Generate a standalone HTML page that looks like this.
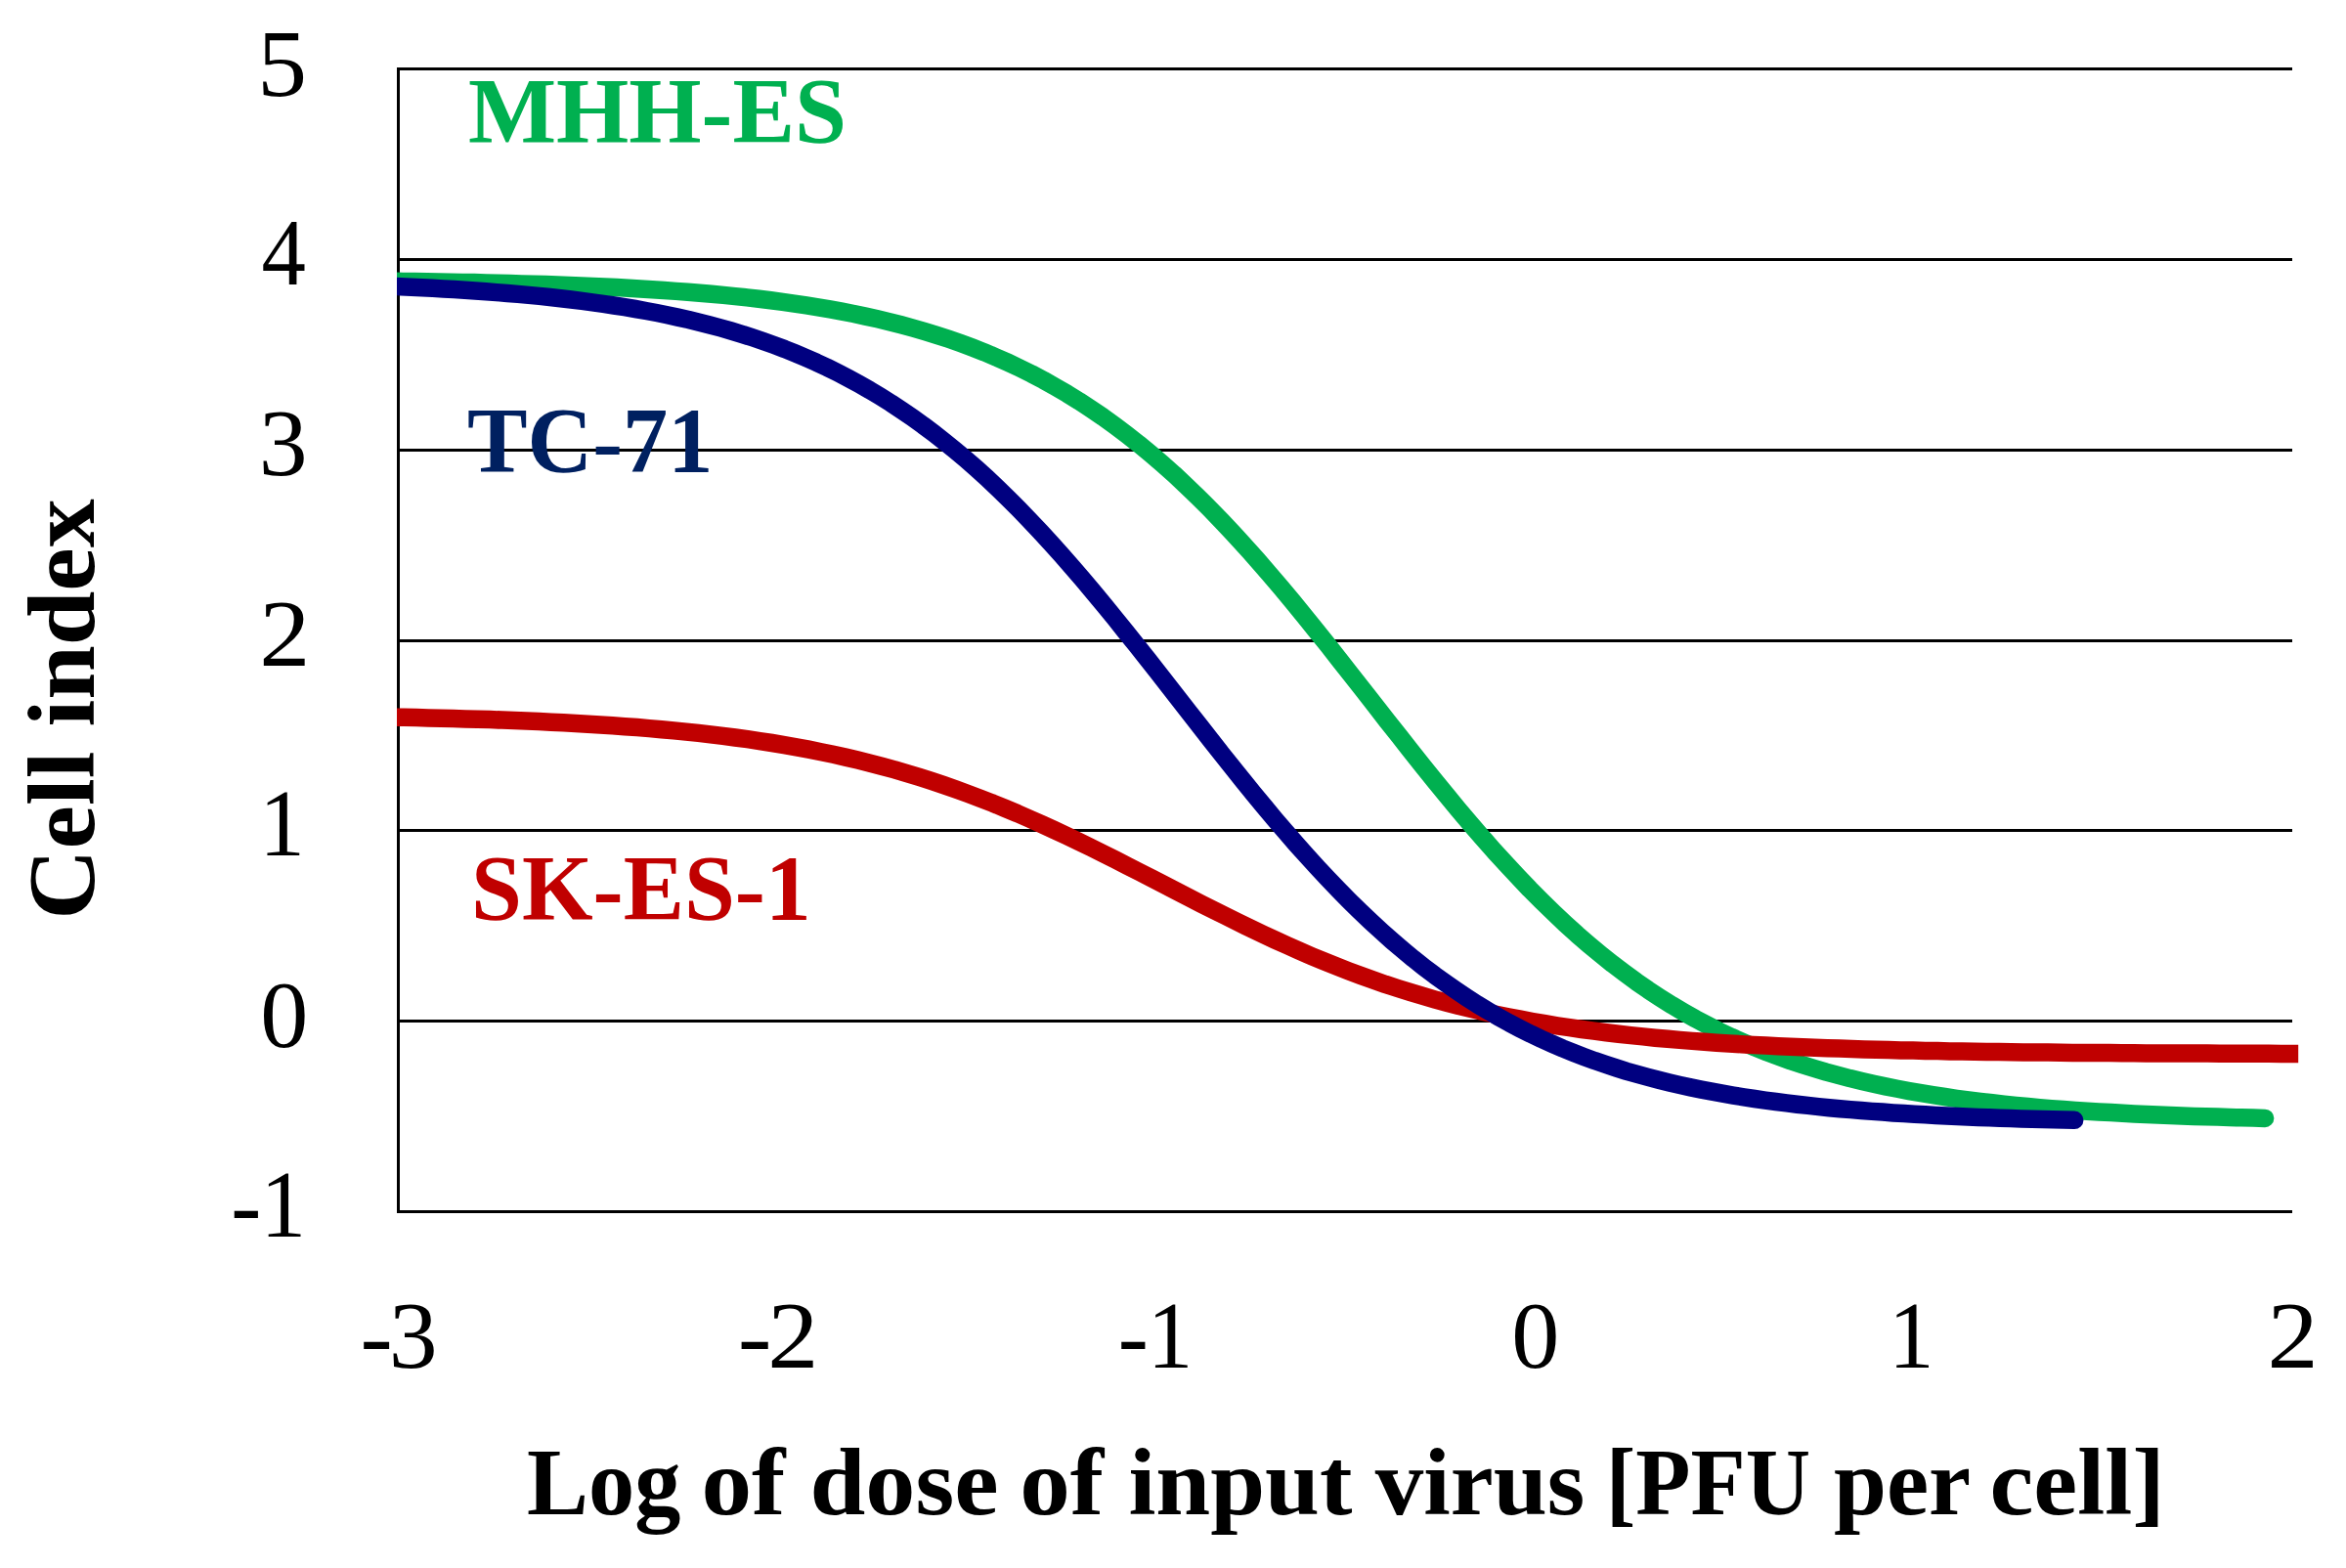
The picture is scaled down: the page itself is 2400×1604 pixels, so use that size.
<!DOCTYPE html>
<html lang="en">
<head>
<meta charset="utf-8">
<title>Cell index vs. log of dose of input virus</title>
<style>
html,body{margin:0;padding:0;background:#fff;}
body{width:2400px;height:1604px;overflow:hidden;}
svg{display:block;}
svg text{font-family:"Liberation Serif",serif;}
.grid line{stroke:#000;stroke-width:3;shape-rendering:crispEdges;}
.curve{fill:none;stroke-width:18.5;stroke-linejoin:round;}
</style>
</head>
<body>
<svg width="2400" height="1604" viewBox="0 0 2400 1604">
<rect width="2400" height="1604" fill="#fff"/>
<defs>
<clipPath id="plotclip"><rect x="406.0" y="0" width="1945.2" height="1604"/></clipPath>
</defs>
<g class="grid">
<line x1="406.0" y1="1239.4" x2="2345.0" y2="1239.4"/>
<line x1="406.0" y1="1044.6" x2="2345.0" y2="1044.6"/>
<line x1="406.0" y1="849.8" x2="2345.0" y2="849.8"/>
<line x1="406.0" y1="655.0" x2="2345.0" y2="655.0"/>
<line x1="406.0" y1="460.2" x2="2345.0" y2="460.2"/>
<line x1="406.0" y1="265.4" x2="2345.0" y2="265.4"/>
<line x1="406.0" y1="70.6" x2="2345.0" y2="70.6"/>
<line x1="407.8" y1="69.1" x2="407.8" y2="1240.9"/>
</g>
<g clip-path="url(#plotclip)">
<path class="curve" stroke="#00B050" stroke-linecap="round" d="M388.1,287.5 L400.3,287.7 L412.4,287.9 L424.5,288.0 L436.7,288.2 L448.8,288.4 L460.9,288.7 L473.0,288.9 L485.2,289.1 L497.3,289.4 L509.4,289.7 L521.6,290.0 L533.7,290.4 L545.8,290.7 L558.0,291.1 L570.1,291.5 L582.2,292.0 L594.4,292.5 L606.5,293.0 L618.6,293.6 L630.8,294.1 L642.9,294.8 L655.0,295.5 L667.2,296.2 L679.3,297.0 L691.4,297.9 L703.6,298.8 L715.7,299.8 L727.8,300.8 L740.0,301.9 L752.1,303.1 L764.2,304.4 L776.3,305.8 L788.5,307.3 L800.6,308.9 L812.7,310.6 L824.9,312.4 L837.0,314.3 L849.1,316.4 L861.3,318.7 L873.4,321.0 L885.5,323.6 L897.7,326.3 L909.8,329.2 L921.9,332.3 L934.1,335.6 L946.2,339.1 L958.3,342.8 L970.5,346.8 L982.6,351.0 L994.7,355.5 L1006.9,360.3 L1019.0,365.4 L1031.1,370.8 L1043.2,376.5 L1055.4,382.5 L1067.5,388.9 L1079.6,395.7 L1091.8,402.8 L1103.9,410.3 L1116.0,418.2 L1128.2,426.5 L1140.3,435.2 L1152.4,444.3 L1164.6,453.9 L1176.7,463.9 L1188.8,474.3 L1201.0,485.1 L1213.1,496.4 L1225.2,508.1 L1237.4,520.2 L1249.5,532.7 L1261.6,545.6 L1273.8,558.9 L1285.9,572.5 L1298.0,586.5 L1310.2,600.8 L1322.3,615.3 L1334.4,630.1 L1346.5,645.1 L1358.7,660.3 L1370.8,675.7 L1382.9,691.1 L1395.1,706.6 L1407.2,722.2 L1419.3,737.7 L1431.5,753.1 L1443.6,768.5 L1455.7,783.8 L1467.9,798.8 L1480.0,813.7 L1492.1,828.3 L1504.3,842.7 L1516.4,856.7 L1528.5,870.5 L1540.7,883.8 L1552.8,896.8 L1564.9,909.5 L1577.1,921.7 L1589.2,933.5 L1601.3,944.9 L1613.4,955.9 L1625.6,966.4 L1637.7,976.5 L1649.8,986.2 L1662.0,995.4 L1674.1,1004.3 L1686.2,1012.7 L1698.4,1020.7 L1710.5,1028.3 L1722.6,1035.5 L1734.8,1042.4 L1746.9,1048.8 L1759.0,1055.0 L1771.2,1060.8 L1783.3,1066.2 L1795.4,1071.4 L1807.6,1076.3 L1819.7,1080.8 L1831.8,1085.2 L1844.0,1089.2 L1856.1,1093.0 L1868.2,1096.6 L1880.4,1099.9 L1892.5,1103.1 L1904.6,1106.0 L1916.7,1108.8 L1928.9,1111.4 L1941.0,1113.8 L1953.1,1116.1 L1965.3,1118.2 L1977.4,1120.2 L1989.5,1122.0 L2001.7,1123.8 L2013.8,1125.4 L2025.9,1126.9 L2038.1,1128.3 L2050.2,1129.6 L2062.3,1130.9 L2074.5,1132.0 L2086.6,1133.1 L2098.7,1134.1 L2110.9,1135.0 L2123.0,1135.9 L2135.1,1136.7 L2147.3,1137.4 L2159.4,1138.1 L2171.5,1138.8 L2183.6,1139.4 L2195.8,1140.0 L2207.9,1140.5 L2220.0,1141.0 L2232.2,1141.5 L2244.3,1141.9 L2256.4,1142.3 L2268.6,1142.6 L2280.7,1143.0 L2292.8,1143.3 L2305.0,1143.6 L2317.1,1143.9"/>
<path class="curve" stroke="#C00000" stroke-linecap="butt" d="M388.1,733.4 L400.7,733.6 L413.2,733.8 L425.8,734.1 L438.3,734.4 L450.9,734.7 L463.4,735.0 L476.0,735.4 L488.5,735.7 L501.1,736.1 L513.6,736.6 L526.2,737.1 L538.7,737.6 L551.3,738.1 L563.8,738.7 L576.4,739.3 L588.9,740.0 L601.5,740.7 L614.0,741.5 L626.6,742.3 L639.1,743.2 L651.7,744.1 L664.2,745.1 L676.8,746.2 L689.4,747.4 L701.9,748.6 L714.5,749.9 L727.0,751.4 L739.6,752.9 L752.1,754.5 L764.7,756.2 L777.2,758.1 L789.8,760.0 L802.3,762.1 L814.9,764.3 L827.4,766.7 L840.0,769.2 L852.5,771.8 L865.1,774.6 L877.6,777.6 L890.2,780.7 L902.7,784.0 L915.3,787.4 L927.8,791.1 L940.4,794.9 L952.9,798.9 L965.5,803.1 L978.0,807.5 L990.6,812.1 L1003.1,816.8 L1015.7,821.7 L1028.2,826.9 L1040.8,832.1 L1053.3,837.6 L1065.9,843.2 L1078.4,849.0 L1091.0,854.9 L1103.5,860.9 L1116.1,867.0 L1128.6,873.2 L1141.2,879.6 L1153.7,885.9 L1166.3,892.4 L1178.8,898.8 L1191.4,905.3 L1203.9,911.8 L1216.5,918.3 L1229.0,924.7 L1241.6,931.1 L1254.2,937.3 L1266.7,943.6 L1279.3,949.7 L1291.8,955.6 L1304.4,961.5 L1316.9,967.2 L1329.5,972.8 L1342.0,978.2 L1354.6,983.4 L1367.1,988.4 L1379.7,993.3 L1392.2,998.0 L1404.8,1002.5 L1417.3,1006.9 L1429.9,1011.0 L1442.4,1014.9 L1455.0,1018.7 L1467.5,1022.3 L1480.1,1025.7 L1492.6,1029.0 L1505.2,1032.0 L1517.7,1034.9 L1530.3,1037.7 L1542.8,1040.3 L1555.4,1042.7 L1567.9,1045.0 L1580.5,1047.2 L1593.0,1049.3 L1605.6,1051.2 L1618.1,1053.0 L1630.7,1054.7 L1643.2,1056.3 L1655.8,1057.7 L1668.3,1059.1 L1680.9,1060.4 L1693.4,1061.7 L1706.0,1062.8 L1718.5,1063.9 L1731.1,1064.9 L1743.6,1065.8 L1756.2,1066.7 L1768.7,1067.5 L1781.3,1068.2 L1793.8,1068.9 L1806.4,1069.6 L1819.0,1070.2 L1831.5,1070.7 L1844.1,1071.3 L1856.6,1071.8 L1869.2,1072.2 L1881.7,1072.6 L1894.3,1073.0 L1906.8,1073.4 L1919.4,1073.8 L1931.9,1074.1 L1944.5,1074.4 L1957.0,1074.6 L1969.6,1074.9 L1982.1,1075.1 L1994.7,1075.4 L2007.2,1075.6 L2019.8,1075.8 L2032.3,1075.9 L2044.9,1076.1 L2057.4,1076.3 L2070.0,1076.4 L2082.5,1076.5 L2095.1,1076.6 L2107.6,1076.8 L2120.2,1076.9 L2132.7,1077.0 L2145.3,1077.1 L2157.8,1077.1 L2170.4,1077.2 L2182.9,1077.3 L2195.5,1077.4 L2208.0,1077.4 L2220.6,1077.5 L2233.1,1077.5 L2245.7,1077.6 L2258.2,1077.6 L2270.8,1077.7 L2283.3,1077.7 L2295.9,1077.8 L2308.4,1077.8 L2321.0,1077.8 L2333.5,1077.9 L2346.1,1077.9 L2358.6,1077.9 L2371.2,1077.9 L2383.8,1078.0"/>
<path class="curve" stroke="#000080" stroke-linecap="round" d="M388.1,292.3 L399.0,292.8 L409.9,293.2 L420.8,293.7 L431.7,294.3 L442.7,294.8 L453.6,295.4 L464.5,296.1 L475.4,296.7 L486.3,297.5 L497.2,298.2 L508.1,299.1 L519.0,299.9 L529.9,300.9 L540.8,301.9 L551.7,302.9 L562.6,304.0 L573.5,305.2 L584.4,306.5 L595.3,307.9 L606.2,309.3 L617.2,310.8 L628.1,312.5 L639.0,314.2 L649.9,316.0 L660.8,318.0 L671.7,320.0 L682.6,322.2 L693.5,324.6 L704.4,327.0 L715.3,329.7 L726.2,332.5 L737.1,335.4 L748.0,338.5 L758.9,341.8 L769.8,345.3 L780.7,349.0 L791.6,352.9 L802.6,357.0 L813.5,361.4 L824.4,366.0 L835.3,370.8 L846.2,375.9 L857.1,381.3 L868.0,387.0 L878.9,392.9 L889.8,399.1 L900.7,405.7 L911.6,412.5 L922.5,419.7 L933.4,427.2 L944.3,435.0 L955.2,443.2 L966.1,451.7 L977.1,460.6 L988.0,469.8 L998.9,479.3 L1009.8,489.2 L1020.7,499.5 L1031.6,510.1 L1042.5,521.0 L1053.4,532.3 L1064.3,543.8 L1075.2,555.7 L1086.1,567.9 L1097.0,580.3 L1107.9,593.0 L1118.8,606.0 L1129.7,619.2 L1140.6,632.5 L1151.5,646.1 L1162.5,659.7 L1173.4,673.5 L1184.3,687.4 L1195.2,701.4 L1206.1,715.4 L1217.0,729.4 L1227.9,743.3 L1238.8,757.2 L1249.7,771.1 L1260.6,784.8 L1271.5,798.4 L1282.4,811.8 L1293.3,825.0 L1304.2,838.1 L1315.1,850.8 L1326.0,863.4 L1337.0,875.6 L1347.9,887.6 L1358.8,899.3 L1369.7,910.7 L1380.6,921.7 L1391.5,932.4 L1402.4,942.8 L1413.3,952.8 L1424.2,962.5 L1435.1,971.8 L1446.0,980.8 L1456.9,989.4 L1467.8,997.7 L1478.7,1005.6 L1489.6,1013.2 L1500.5,1020.5 L1511.4,1027.5 L1522.4,1034.1 L1533.3,1040.4 L1544.2,1046.5 L1555.1,1052.2 L1566.0,1057.7 L1576.9,1062.9 L1587.8,1067.8 L1598.7,1072.5 L1609.6,1076.9 L1620.5,1081.1 L1631.4,1085.1 L1642.3,1088.8 L1653.2,1092.4 L1664.1,1095.8 L1675.0,1098.9 L1685.9,1101.9 L1696.9,1104.8 L1707.8,1107.5 L1718.7,1110.0 L1729.6,1112.4 L1740.5,1114.6 L1751.4,1116.7 L1762.3,1118.7 L1773.2,1120.6 L1784.1,1122.3 L1795.0,1124.0 L1805.9,1125.6 L1816.8,1127.0 L1827.7,1128.4 L1838.6,1129.7 L1849.5,1130.9 L1860.4,1132.1 L1871.3,1133.2 L1882.3,1134.2 L1893.2,1135.1 L1904.1,1136.0 L1915.0,1136.9 L1925.9,1137.6 L1936.8,1138.4 L1947.7,1139.1 L1958.6,1139.7 L1969.5,1140.3 L1980.4,1140.9 L1991.3,1141.5 L2002.2,1142.0 L2013.1,1142.4 L2024.0,1142.9 L2034.9,1143.3 L2045.8,1143.7 L2056.8,1144.1 L2067.7,1144.4 L2078.6,1144.7 L2089.5,1145.0 L2100.4,1145.3 L2111.3,1145.6 L2122.2,1145.8"/>
</g>
<g>
<text transform="translate(314,97.5) scale(1.043,1)" font-size="97.5" text-anchor="end" font-weight="normal" fill="#000">5</text>
<text transform="translate(313,290.7) scale(0.932,1)" font-size="97.5" text-anchor="end" font-weight="normal" fill="#000">4</text>
<text transform="translate(314.5,485.5) scale(1.023,1)" font-size="97.5" text-anchor="end" font-weight="normal" fill="#000">3</text>
<text transform="translate(317.5,680.8) scale(1.071,1)" font-size="97.5" text-anchor="end" font-weight="normal" fill="#000">2</text>
<text transform="translate(311.8,875.1) scale(0.956,1)" font-size="97.5" text-anchor="end" font-weight="normal" fill="#000">1</text>
<text transform="translate(315.3,1071.4) scale(1.007,1)" font-size="97.5" text-anchor="end" font-weight="normal" fill="#000">0</text>
<text transform="translate(313,1264.7) scale(0.956,1)" font-size="97.5" text-anchor="end" font-weight="normal" fill="#000">-<tspan dx='-1'>1</tspan></text>
<text transform="translate(408,1399.2) scale(1.023,1)" font-size="97.5" text-anchor="middle" font-weight="normal" fill="#000">-<tspan dx='-4'>3</tspan></text>
<text transform="translate(796,1399.2) scale(1.071,1)" font-size="97.5" text-anchor="middle" font-weight="normal" fill="#000">-<tspan dx='-4'>2</tspan></text>
<text transform="translate(1182,1399.2) scale(0.956,1)" font-size="97.5" text-anchor="middle" font-weight="normal" fill="#000">-<tspan dx='-1'>1</tspan></text>
<text transform="translate(1570.7,1399.2) scale(1.007,1)" font-size="97.5" text-anchor="middle" font-weight="normal" fill="#000">0</text>
<text transform="translate(1955.4,1399.2) scale(0.956,1)" font-size="97.5" text-anchor="middle" font-weight="normal" fill="#000">1</text>
<text transform="translate(2345.5,1399.2) scale(1.071,1)" font-size="97.5" text-anchor="middle" font-weight="normal" fill="#000">2</text>
<text transform="translate(479,145.8) scale(1.005,1)" font-size="95" text-anchor="start" font-weight="bold" fill="#00B050">MHH-ES</text>
<text transform="translate(478,482.6) scale(0.972,1)" font-size="95" text-anchor="start" font-weight="bold" fill="#002060">TC-71</text>
<text transform="translate(482,940.7) scale(0.983,1)" font-size="95" text-anchor="start" font-weight="bold" fill="#C00000">SK-ES-1</text>
<text y="1549" font-size="97.7" font-weight="bold" fill="#000"><tspan x="539.1" textLength="157.3" lengthAdjust="spacingAndGlyphs">Log</tspan> <tspan x="717.5" textLength="86.0" lengthAdjust="spacingAndGlyphs">of</tspan> <tspan x="828.5" textLength="193.1" lengthAdjust="spacingAndGlyphs">dose</tspan> <tspan x="1043.3" textLength="85.9" lengthAdjust="spacingAndGlyphs">of</tspan> <tspan x="1154.4" textLength="229.1" lengthAdjust="spacingAndGlyphs">input</tspan> <tspan x="1406.7" textLength="214.7" lengthAdjust="spacingAndGlyphs">virus</tspan> <tspan x="1642.7" textLength="209.4" lengthAdjust="spacingAndGlyphs">[PFU</tspan> <tspan x="1876.0" textLength="138.4" lengthAdjust="spacingAndGlyphs">per</tspan> <tspan x="2035.5" textLength="179.5" lengthAdjust="spacingAndGlyphs">cell]</tspan></text>
<text transform="translate(96,725.5) rotate(-90) scale(1.025,1)" font-size="97.5" text-anchor="middle" font-weight="bold" fill="#000">Cell index</text>
</g>
</svg>
</body>
</html>
